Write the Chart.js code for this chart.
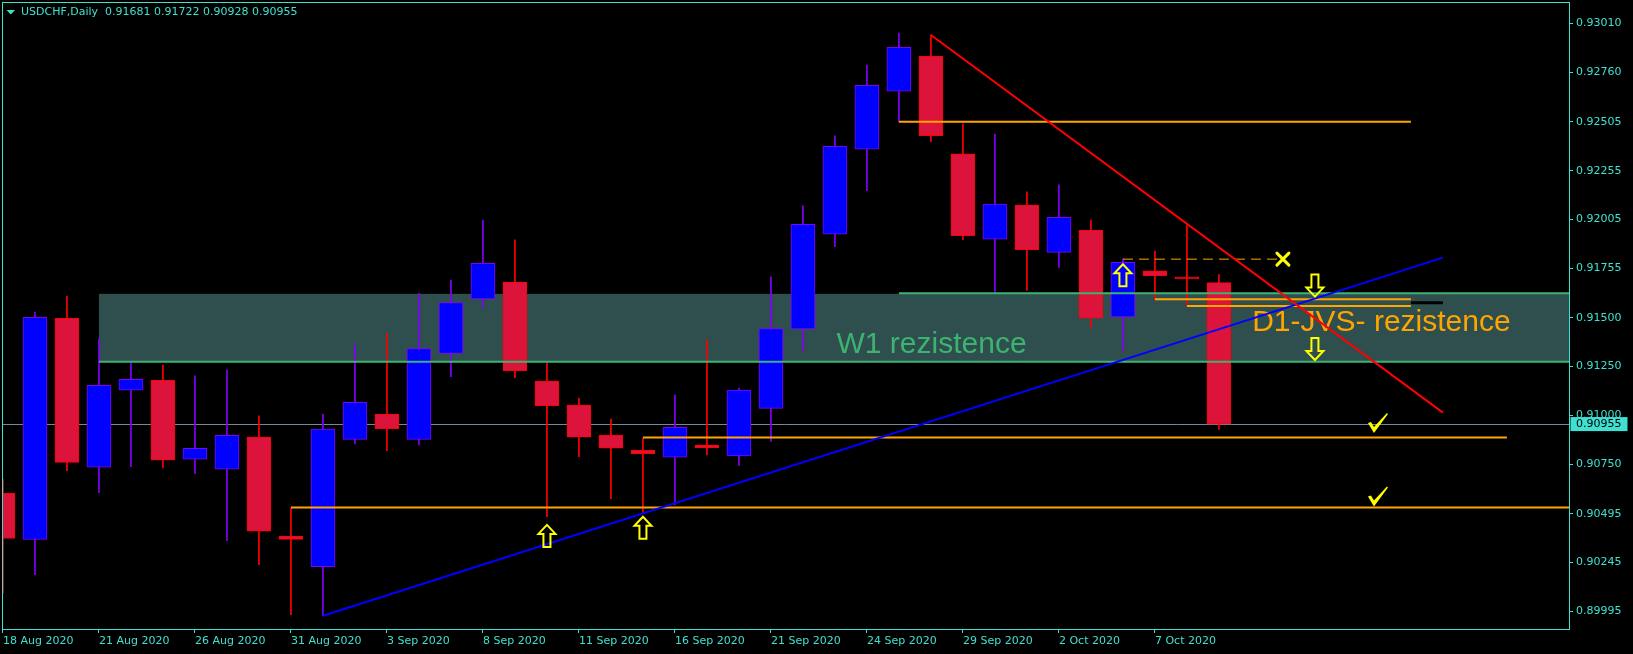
<!DOCTYPE html>
<html lang="en">
<head>
<meta charset="UTF-8">
<title>USDCHF,Daily</title>
<style>
  html, body { margin: 0; padding: 0; background: #000; overflow: hidden; }
  #wrap { width: 1633px; height: 654px; }
</style>
</head>
<body>
<div id="wrap"><canvas id="chart" width="1633" height="654"></canvas></div>
<script src="https://cdn.jsdelivr.net/npm/chart.js@4"></script>
<script>
// daily bars
const dates = ['18 Aug 2020', '19 Aug 2020', '20 Aug 2020', '21 Aug 2020', '24 Aug 2020', '25 Aug 2020',
  '26 Aug 2020', '27 Aug 2020', '28 Aug 2020', '31 Aug 2020', '1 Sep 2020', '2 Sep 2020', '3 Sep 2020',
  '4 Sep 2020', '7 Sep 2020', '8 Sep 2020', '9 Sep 2020', '10 Sep 2020', '11 Sep 2020', '14 Sep 2020',
  '15 Sep 2020', '16 Sep 2020', '17 Sep 2020', '18 Sep 2020', '21 Sep 2020', '22 Sep 2020', '23 Sep 2020',
  '24 Sep 2020', '25 Sep 2020', '28 Sep 2020', '29 Sep 2020', '30 Sep 2020', '1 Oct 2020', '2 Oct 2020',
  '5 Oct 2020', '6 Oct 2020', '7 Oct 2020', '8 Oct 2020', '9 Oct 2020'];
const opens = [0.90600, 0.90364, 0.91498, 0.90734, 0.91129, 0.91180, 0.90775, 0.90724, 0.90888, 0.90381,
  0.90224, 0.90877, 0.91006, 0.90877, 0.91318, 0.91597, 0.91683, 0.91175, 0.91052, 0.90898,
  0.90821, 0.90785, 0.90848, 0.90792, 0.91036, 0.91443, 0.91929, 0.92365, 0.92662, 0.92843,
  0.92341, 0.91903, 0.92078, 0.91836, 0.91949, 0.91505, 0.91741, 0.91710, 0.91681];
const highs = [0.90672, 0.91530, 0.91612, 0.91392, 0.91270, 0.91258, 0.91202, 0.91233, 0.90997, 0.90523,
  0.91007, 0.91361, 0.91421, 0.91626, 0.91694, 0.92002, 0.91900, 0.91270, 0.91088, 0.90981,
  0.90882, 0.91105, 0.91387, 0.91140, 0.91710, 0.92074, 0.92433, 0.92797, 0.92961, 0.92951,
  0.92495, 0.92443, 0.92146, 0.92182, 0.92002, 0.91801, 0.91843, 0.91977, 0.91722];
const lows = [0.90088, 0.90183, 0.90716, 0.90603, 0.90737, 0.90732, 0.90701, 0.90357, 0.90234, 0.89977,
  0.89972, 0.90853, 0.90819, 0.90848, 0.91198, 0.91554, 0.91193, 0.90480, 0.90788, 0.90573,
  0.90501, 0.90540, 0.90797, 0.90743, 0.90866, 0.91332, 0.91865, 0.92152, 0.92506, 0.92404,
  0.91901, 0.91626, 0.91640, 0.91758, 0.91447, 0.91332, 0.91592, 0.91561, 0.90928];
const closes = [0.90368, 0.91503, 0.90759, 0.91154, 0.91185, 0.90770, 0.90831, 0.90898, 0.90406, 0.90364,
  0.90929, 0.91067, 0.90932, 0.91342, 0.91578, 0.91780, 0.91229, 0.91050, 0.90888, 0.90831,
  0.90803, 0.90939, 0.90834, 0.91130, 0.91445, 0.91980, 0.92380, 0.92693, 0.92888, 0.92435,
  0.91922, 0.92083, 0.91850, 0.92016, 0.91498, 0.91785, 0.91716, 0.91700, 0.90955];

// price scale as printed on the right
const priceTicks = [0.93010, 0.92760, 0.92505, 0.92255, 0.92005, 0.91755, 0.91500,
  0.91250, 0.91000, 0.90750, 0.90495, 0.90245, 0.89995];
const lastPrice = 0.90955;
const header = 'USDCHF,Daily  0.91681 0.91722 0.90928 0.90955';

// drawn objects, in (bar index, price)
const zoneStart = 3, zoneTop = 0.91623, zoneBottom = 0.91275;
const greenLevels = [[28, null, 0.91626], [3, null, 0.91275]];
const blackLevels = [[44, 45, 0.91578]];
const orangeLevels = [[28, 44, 0.92506], [9, null, 0.90527], [20, 47, 0.90886], [36, 44, 0.91595], [37, 44, 0.91561]];
const dashedLevels = [[35, 39.9, 0.91801]];
const redTrend = [[29, 0.92951], [45, 0.91014]];
const blueTrend = [[10, 0.89972], [45, 0.91809]];
const upArrows = [[17, 0.90438], [20, 0.90480], [35, 0.91775]];
const downArrows = [[41, 0.91609], [41, 0.91284]];
const crossMarks = [[40, 0.91801]];
const checkMarks = [[42.97, 0.90961], [42.97, 0.90584]];
const notes = [['W1 rezistence', 26.05, 0.91318], ['D1-JVS- rezistence', 39.04, 0.91434]];

const AXIS = '#40e0d0';
const UP_FILL = '#0000ff', UP_LINE = '#8000ff';
const DN_FILL = '#dc143c', DN_LINE = '#ff0000';
const isUp = i => closes[i] >= opens[i];

function hLine(ctx, x, y, lv, right) {
  const x0 = x.getPixelForValue(lv[0]);
  const x1 = lv[1] === null ? right : x.getPixelForValue(lv[1]);
  const py = y.getPixelForValue(lv[2]);
  ctx.beginPath(); ctx.moveTo(x0, py); ctx.lineTo(x1, py); ctx.stroke();
}

function segment(ctx, x, y, pts) {
  ctx.beginPath();
  ctx.moveTo(x.getPixelForValue(pts[0][0]), y.getPixelForValue(pts[0][1]));
  ctx.lineTo(x.getPixelForValue(pts[1][0]), y.getPixelForValue(pts[1][1]));
  ctx.stroke();
}

function arrow(ctx, cx, tip, dir) {
  // hollow block arrow, dir -1 = up, 1 = down
  const s = -dir;
  ctx.beginPath();
  ctx.moveTo(cx, tip);
  ctx.lineTo(cx + 8.5, tip + s * 9);
  ctx.lineTo(cx + 3.5, tip + s * 9);
  ctx.lineTo(cx + 3.5, tip + s * 22);
  ctx.lineTo(cx - 3.5, tip + s * 22);
  ctx.lineTo(cx - 3.5, tip + s * 9);
  ctx.lineTo(cx - 8.5, tip + s * 9);
  ctx.closePath();
  ctx.stroke();
}

const drawings = {
  id: 'drawings',
  beforeDatasetsDraw(chart) {
    const {ctx, chartArea: a, scales: {x, y}} = chart;
    ctx.save();
    ctx.beginPath(); ctx.rect(a.left, a.top, a.right - a.left, a.bottom - a.top); ctx.clip();
    const zx = x.getPixelForValue(zoneStart);
    const zt = y.getPixelForValue(zoneTop);
    ctx.fillStyle = '#2f4f4f';
    ctx.fillRect(zx, zt, a.right - zx, y.getPixelForValue(zoneBottom) - zt);
    // bid line
    const by = Math.round(y.getPixelForValue(lastPrice)) + 0.5;
    ctx.strokeStyle = '#778899'; ctx.lineWidth = 1;
    ctx.beginPath(); ctx.moveTo(a.left, by); ctx.lineTo(a.right, by); ctx.stroke();
    ctx.restore();
  },
  afterDatasetsDraw(chart) {
    const {ctx, chartArea: a, scales: {x, y}} = chart;
    ctx.save();
    ctx.beginPath(); ctx.rect(a.left, a.top, a.right - a.left, a.bottom - a.top); ctx.clip();

    ctx.textBaseline = 'alphabetic';
    ctx.font = '30px "Liberation Sans", Arial, sans-serif';
    notes.forEach((n, i) => {
      ctx.fillStyle = i === 0 ? '#3cb371' : '#ffa500';
      ctx.fillText(n[0], x.getPixelForValue(n[1]), y.getPixelForValue(n[2]));
    });

    ctx.lineWidth = 2;
    ctx.strokeStyle = '#3cb371';
    greenLevels.forEach(lv => hLine(ctx, x, y, lv, a.right));
    ctx.lineWidth = 3;
    ctx.strokeStyle = '#000000';
    blackLevels.forEach(lv => hLine(ctx, x, y, lv, a.right));
    ctx.lineWidth = 2;
    ctx.strokeStyle = '#ffa500';
    orangeLevels.forEach(lv => hLine(ctx, x, y, lv, a.right));
    ctx.lineWidth = 1;
    ctx.setLineDash([10, 6]);
    dashedLevels.forEach(lv => hLine(ctx, x, y, lv, a.right));
    ctx.setLineDash([]);

    ctx.lineWidth = 2;
    ctx.strokeStyle = '#0000ff';
    segment(ctx, x, y, blueTrend);
    ctx.strokeStyle = '#ff0000';
    segment(ctx, x, y, redTrend);

    ctx.strokeStyle = '#ffff00';
    ctx.lineWidth = 2;
    ctx.lineJoin = 'miter';
    upArrows.forEach(p => arrow(ctx, x.getPixelForValue(p[0]), y.getPixelForValue(p[1]), -1));
    downArrows.forEach(p => arrow(ctx, x.getPixelForValue(p[0]), y.getPixelForValue(p[1]), 1));

    ctx.lineWidth = 3;
    ctx.lineCap = 'round';
    crossMarks.forEach(p => {
      const cx = x.getPixelForValue(p[0]), cy = y.getPixelForValue(p[1]);
      ctx.beginPath();
      ctx.moveTo(cx - 6, cy - 6); ctx.lineTo(cx + 6, cy + 6);
      ctx.moveTo(cx + 6, cy - 6); ctx.lineTo(cx - 6, cy + 6);
      ctx.stroke();
    });

    ctx.fillStyle = '#ffff00';
    checkMarks.forEach(p => {
      const cx = x.getPixelForValue(p[0]), cy = y.getPixelForValue(p[1]);
      ctx.beginPath();
      ctx.moveTo(cx - 10, cy + 0);
      ctx.lineTo(cx - 7, cy - 1);
      ctx.lineTo(cx - 4, cy + 4);
      ctx.lineTo(cx + 9, cy - 10);
      ctx.lineTo(cx + 10, cy - 9);
      ctx.lineTo(cx - 4, cy + 10);
      ctx.closePath();
      ctx.fill();
    });
    ctx.restore();
  },
  afterDraw(chart) {
    const {ctx, chartArea: a, scales: {y}} = chart;
    ctx.save();
    // frame
    ctx.strokeStyle = AXIS; ctx.lineWidth = 1;
    ctx.strokeRect(a.left + 0.5, a.top + 0.5, a.right - a.left, a.bottom - a.top);
    // header
    ctx.fillStyle = AXIS;
    ctx.beginPath(); ctx.moveTo(6.5, 10); ctx.lineTo(15, 10); ctx.lineTo(10.8, 14.5); ctx.closePath(); ctx.fill();
    ctx.font = '11px "DejaVu Sans", sans-serif';
    ctx.textBaseline = 'middle';
    ctx.fillText(header, 21, 12.5);
    // last price box
    const py = y.getPixelForValue(lastPrice);
    ctx.fillRect(a.right + 1.5, py - 7, 57, 14);
    ctx.fillStyle = '#000000';
    ctx.fillText(lastPrice.toFixed(5), a.right + 7, py + 0.5);
    ctx.restore();
  }
};

new Chart(document.getElementById('chart'), {
  type: 'bar',
  data: {
    datasets: [
      {
        label: 'range',
        data: dates.map((d, i) => ({x: i, y: [lows[i], highs[i]]})),
        barThickness: 1,
        backgroundColor: c => isUp(c.dataIndex) ? UP_LINE : DN_LINE,
        borderWidth: 0,
        grouped: false,
        order: 2,
        clip: 0
      },
      {
        label: 'body',
        data: dates.map((d, i) => ({x: i, y: [opens[i], closes[i]]})),
        barThickness: 24,
        backgroundColor: c => isUp(c.dataIndex) ? UP_FILL : DN_FILL,
        borderColor: c => isUp(c.dataIndex) ? UP_LINE : DN_LINE,
        borderWidth: 1,
        borderSkipped: false,
        grouped: false,
        order: 1,
        clip: 0
      }
    ]
  },
  options: {
    responsive: false,
    animation: false,
    events: [],
    layout: { padding: { left: 2, top: 2, right: 0, bottom: 0 } },
    plugins: { legend: { display: false }, tooltip: { enabled: false } },
    scales: {
      x: {
        type: 'linear',
        min: -0.03,
        max: 48.94,
        offset: false,
        grid: { offset: false, drawOnChartArea: false, tickLength: 4, color: AXIS },
        border: { display: false },
        ticks: {
          autoSkip: false, maxRotation: 0, minRotation: 0, align: 'start', padding: 2,
          color: AXIS, font: { family: 'DejaVu Sans', size: 11 },
          callback: v => dates[v]
        },
        afterBuildTicks: s => { s.ticks = dates.map((d, i) => ({value: i})).filter(t => t.value % 3 === 0); },
        afterFit: s => { s.height = 25; s.paddingLeft = 0; s.paddingRight = 0; }
      },
      y: {
        position: 'right',
        min: 0.89904,
        max: 0.93120,
        grid: { drawOnChartArea: false, tickLength: 4, color: AXIS },
        border: { display: false },
        ticks: {
          padding: 3, color: AXIS, font: { family: 'DejaVu Sans', size: 11 },
          callback: v => v.toFixed(5)
        },
        afterBuildTicks: s => { s.ticks = priceTicks.map(v => ({value: v})); },
        afterFit: s => { s.width = 64; s.paddingTop = 0; s.paddingBottom = 0; }
      }
    }
  },
  plugins: [drawings]
});
</script>
</body>
</html>
